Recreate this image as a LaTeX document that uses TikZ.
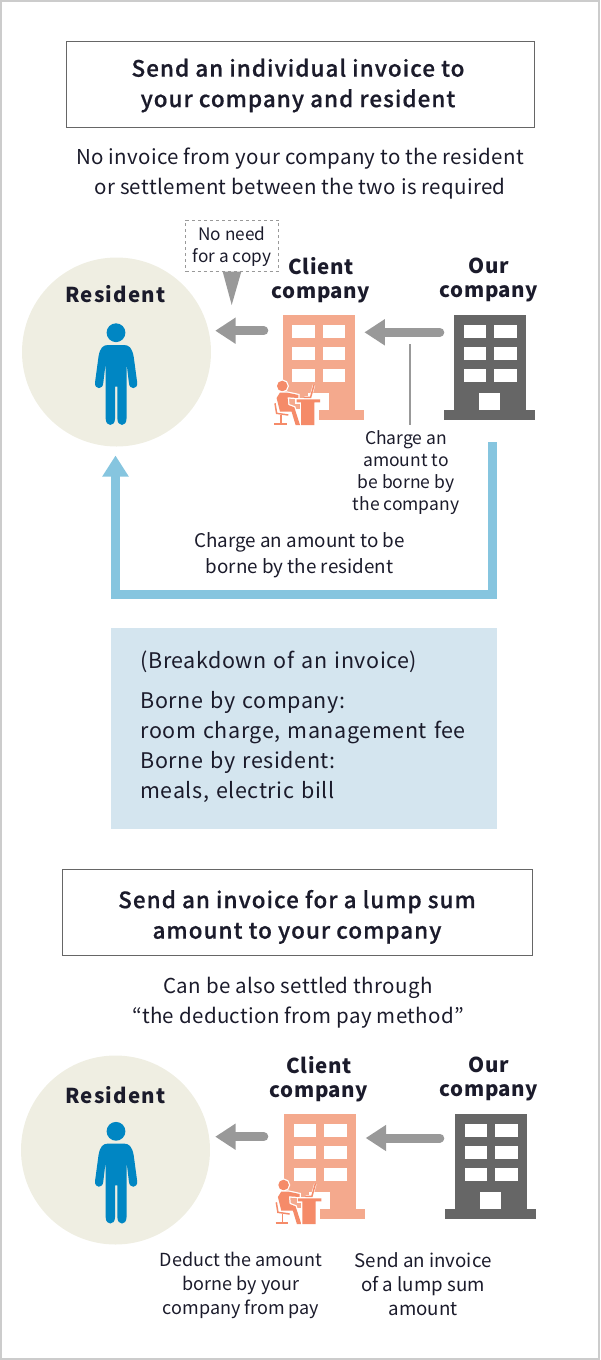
\documentclass[tikz,border=0pt]{standalone}
\usepackage{fontspec}
\setmainfont{Noto Sans CJK JP}
\newfontfamily\titlefont[LetterSpace=4.5,FakeBold=0.6]{Noto Sans CJK JP Medium}
\newfontfamily\headfont[LetterSpace=2.5]{Noto Sans CJK JP}
\newfontfamily\widefont[LetterSpace=6]{Noto Sans CJK JP}
\newfontfamily\bodyfont[LetterSpace=1.7]{Noto Sans CJK JP}
\newfontfamily\boxfont[LetterSpace=2.6]{Noto Sans CJK JP}
\usetikzlibrary{arrows.meta}
\definecolor{inkcol}{HTML}{1B1B2B}
\definecolor{framecol}{HTML}{CCCCCC}
\definecolor{circcol}{HTML}{EFEEE2}
\definecolor{mancol}{HTML}{0086C3}
\definecolor{arrowcol}{HTML}{999999}
\definecolor{bluecol}{HTML}{86C5DF}
\definecolor{boxcol}{HTML}{D4E5EF}
\definecolor{darkcol}{HTML}{666666}
\definecolor{salmoncol}{HTML}{F4A98D}
\definecolor{workcol}{HTML}{F58B69}
\tikzset{
  titlebox/.style={draw=darkcol,line width=0.8pt,minimum width=468pt,minimum height=86pt,inner sep=0pt,align=center,font=\titlefont\fontsize{22.5}{30.5}\selectfont},
  subtext/.style={inner sep=0pt,align=center,font=\bodyfont\fontsize{20.5}{30}\selectfont},
  heading/.style={inner sep=0pt,align=center,font=\headfont\bfseries\fontsize{20.5}{24}\selectfont},
  wideheading/.style={inner sep=0pt,align=center,font=\widefont\bfseries\fontsize{20.5}{24}\selectfont},
  smalltext/.style={inner sep=0pt,align=center,font=\fontsize{17.5}{22}\selectfont},
  midtext/.style={inner sep=0pt,align=center,font=\fontsize{18.8}{26}\selectfont},
  lowtext/.style={inner sep=0pt,align=center,font=\fontsize{18}{24}\selectfont},
  resident/.style={circle,fill=circcol,minimum size=189pt,inner sep=0pt},
  greyarrow/.style={draw=arrowcol,line width=9pt,line cap=round,-{Triangle[length=20.5pt,width=25pt]}},
  bluearrow/.style={draw=bluecol,line width=9pt,-{Triangle[length=21pt,width=25pt]}},
  halo/.style={preaction={draw=white,line width=2.5pt}},
  person/.pic={
    \fill[mancol] (0,0) circle (9.4);
    \fill[mancol] (-8,12.3) .. controls (-13,12.3) and (-16,15) .. (-17.5,24)
      -- (-21,50) .. controls (-21.5,57) and (-13,57.5) .. (-12.7,50) -- (-10.3,30)
      -- (-10.3,86) .. controls (-10.3,94.3) and (-1,94.3) .. (-1,86) -- (-1,54) -- (1.4,54) -- (1.4,86)
      .. controls (1.4,94.3) and (10.5,94.3) .. (10.5,86) -- (10.5,30)
      -- (12.9,50) .. controls (13.2,57.5) and (21.7,57) .. (21.2,50)
      -- (17.7,24) .. controls (16,15) and (13,12.3) .. (8,12.3) -- cycle;
  },
  worker/.pic={
    % foot of the block goes white under the sitter
    \fill[white] (-10,23) rectangle (36.7,40);
    \draw[workcol,line width=1.5pt,halo] (-7.3,17.3) -- (-5.7,27.3) -- (6,29);
    \draw[workcol,line width=1.5pt] (-1.3,29) -- (-1.3,37) (-8,38) -- (4.3,38);
    \fill[workcol,halo] (0,0) circle (5.3);
    \fill[workcol,halo] (-2.3,6.5) -- (4.3,6.5) -- (16,9) -- (16,12) -- (5.3,11.3) -- (6,19) -- (12,21.3)
      -- (17.7,39) -- (13.3,39) -- (9.3,25.7) -- (-2.3,25.7) -- (-5.7,12) -- cycle;
    \fill[workcol,halo] (14.3,13.3) -- (37.7,13.3) -- (37.7,16.3) -- (32,16.3) -- (32,39) -- (18.7,39) -- (18.7,16.3) -- (14.3,16.3) -- cycle;
    \draw[workcol,line width=1.5pt,line cap=round,halo] (22,11.3) -- (28.3,11.3) -- (31.7,-1);
  }
}
% building with its windows, door and foot
\newcommand{\officeblock}[4]{
  \node[fill=#4,minimum width=71.6pt,minimum height=104.5pt,inner sep=0pt,anchor=north west] (#1) at (#2,#3) {};
  \begin{scope}[shift={(#2,#3)}]
    \fill[#4] (-9.7,95) rectangle (81.3,104.5);
    \foreach \wy in {10,32,54} {
      \fill[white] (9.7,\wy) rectangle (32,\wy+13.3);
      \fill[white] (40,\wy) rectangle (62.7,\wy+13.3);
    }
    \fill[white] (25.3,78) rectangle (46.3,95);
  \end{scope}
}
\begin{document}
\begin{tikzpicture}[x=1pt,y=-1pt,text=inkcol]
  \useasboundingbox (0,0) rectangle (600,1360);
  \draw[framecol,line width=2pt] (1,1) rectangle (599,1359);

  % upper half
  \node[titlebox] (title1) at (300,84) {\rule{0pt}{21pt}Send an individual invoice to\hspace*{4pt}\\your company and resident\hspace*{4pt}};
  \node[subtext] (sub1) at (300,174) {No invoice from your company to the resident\\or settlement between the two is required};

  \node[resident] (res1) at (116.5,352) {};
  \pic at (116,332.7) {person};
  \node[wideheading] (reslabel1) at (115.5,294) {Resident};

  \officeblock{client1}{282.7}{315}{salmoncol}
  \officeblock{our1}{454}{315}{darkcol}
  \pic at (282.3,386) {worker};
  \node[heading] (clientlabel1) at (321,280.5) {Client\\company};
  \node[heading] (ourlabel1) at (489,280) {Our\\company};

  \node[draw=arrowcol,dashed,line width=0.7pt,minimum width=92.6pt,minimum height=51.7pt,inner sep=0pt,smalltext,font=\fontsize{17.2}{22}\selectfont] (copy1) at (232,245.8) {\rule{0pt}{16pt}No need\\for a copy};
  \fill[arrowcol] (222.7,271.7) -- (241.3,271.7) -- (231.7,305) -- cycle;

  \coordinate (tail1) at (263.8,330.7);
  \coordinate (tail2) at (439.8,332.3);
  \draw[greyarrow,shorten >=4pt] (tail1) -- (tail1 -| res1.east);
  \draw[greyarrow,shorten >=9.7pt] (tail2) -- (tail2 -| client1.east);

  \node[smalltext] (chargeco) at (406,472.5) {Charge an\\amount to\\be borne by\\the company};
  \coordinate (lead1) at (410,344);
  \draw[arrowcol,line width=1.3pt,shorten >=5pt] (lead1) -- (lead1 |- chargeco.north);

  \node[midtext] (chargeres) at (299.5,555) {Charge an amount to be\\borne by the resident};
  \coordinate (blue1) at (492.8,442);
  \coordinate (blue2) at (115.5,594);
  \coordinate (blue3) at (115.5,446);
  \draw[bluearrow,shorten >=9.5pt] (blue1) |- (blue2) -- (blue3);

  % breakdown of an invoice
  \node[fill=boxcol,minimum width=386pt,minimum height=201pt,inner xsep=29.5pt,inner ysep=0pt,align=left,text width=327pt,font=\boxfont\fontsize{21.5}{30}\selectfont] (breakdown) at (304,728.5)
    {(Breakdown of an invoice)\\[10pt]Borne by company:\\room charge, management fee\\Borne by resident:\\meals, electric bill\rule[-8pt]{0pt}{0pt}};

  % lower half
  \node[titlebox,minimum width=470pt] (title2) at (297,912.5) {\rule{0pt}{27pt}Send an invoice for a lump sum\\amount to your company};
  \node[subtext] (sub2) at (298,1003) {Can be also settled through\\“the deduction from pay method”};

  \node[resident] (res2) at (115.5,1150) {};
  \pic at (116,1131.3) {person};
  \node[wideheading] (reslabel2) at (115.5,1095) {Resident};

  \officeblock{client2}{284}{1114}{salmoncol}
  \officeblock{our2}{455}{1114}{darkcol}
  \pic at (283.6,1185) {worker};
  \node[heading] (clientlabel2) at (319,1079) {Client\\company};
  \node[heading] (ourlabel2) at (489,1079) {Our\\company};

  \coordinate (tail3) at (263.8,1136.7);
  \coordinate (tail4) at (439.8,1138);
  \draw[greyarrow,shorten >=5pt] (tail3) -- (tail3 -| res2.east);
  \draw[greyarrow,shorten >=9.7pt] (tail4) -- (tail4 -| client2.east);

  \node[lowtext] (deduct) at (241,1285) {Deduct the amount\\borne by your\\company from pay};
  \node[lowtext,font=\fontsize{18.7}{24}\selectfont] (lump) at (423,1284) {Send an invoice\\of a lump sum\\amount};
\end{tikzpicture}
\end{document}
